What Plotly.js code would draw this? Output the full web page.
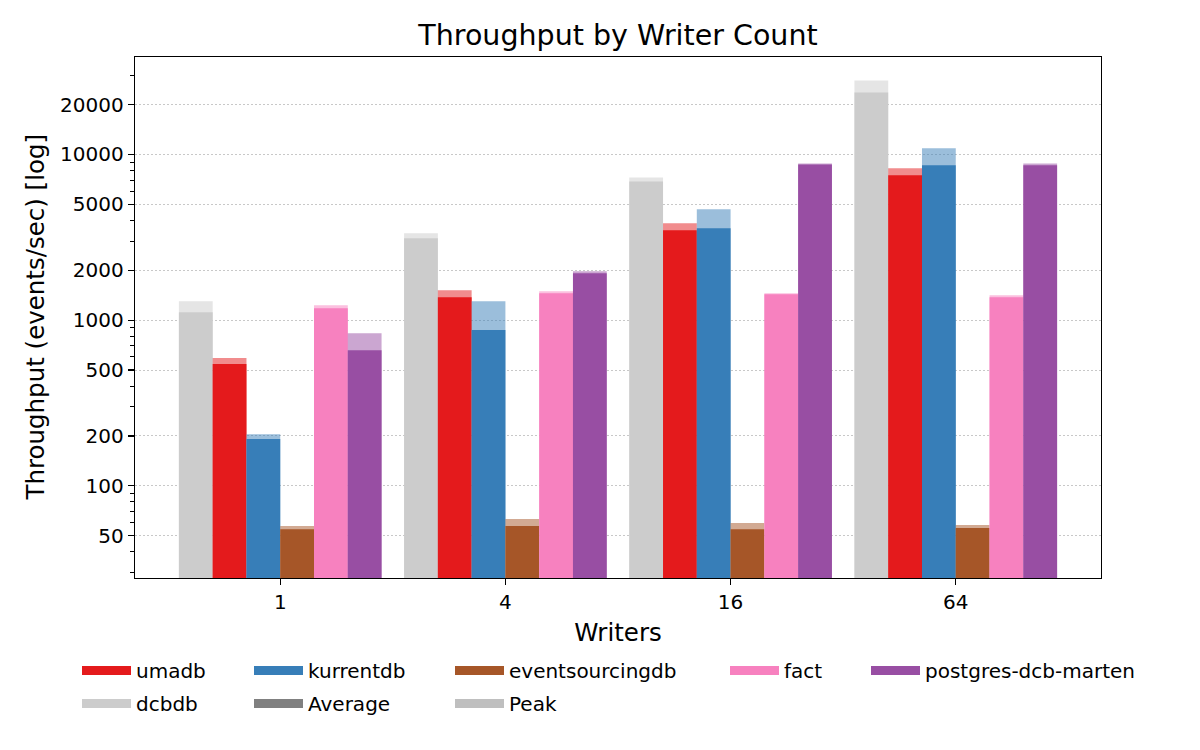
<!DOCTYPE html>
<html>
<head>
<meta charset="utf-8">
<script src="https://cdn.plot.ly/plotly-3.0.1.min.js"></script>
<style>
  body { margin: 0; background: #fff; }
  #chart { width: 1200px; height: 750px; }
</style>
</head>
<body>
<div id="chart"></div>
<script>
// writer counts on the x axis
const writers = ['1', '4', '16', '64'];

// throughput in events/sec (average / peak)
const dcbdbAvg = [1117, 3123, 6875, 23650];
const dcbdbPeak = [1302, 3348, 7265, 27950];
const umadbAvg = [543, 1376, 3490, 7490];
const umadbPeak = [590, 1517, 3846, 8254];
const kurrentdbAvg = [192, 871, 3587, 8607];
const kurrentdbPeak = [205, 1302, 4672, 10900];
const eventsourcingdbAvg = [54.8, 57.2, 54.8, 55.6];
const eventsourcingdbPeak = [57.2, 63.0, 59.7, 58.0];
const factAvg = [1181, 1455, 1435, 1376];
const factPeak = [1231, 1496, 1455, 1415];
const martenAvg = [659, 1920, 8703, 8607];
const martenPeak = [835, 1975, 8825, 8830];

const yTickVals = [50, 100, 200, 500, 1000, 2000, 5000, 10000, 20000];
const yTickText = ['50', '100', '200', '500', '1000', '2000', '5000', '10000', '20000'];

const FONT = 'DejaVu Sans, Verdana, sans-serif';

const series = [
  { name: 'dcbdb', avg: dcbdbAvg, peak: dcbdbPeak, color: '#cccccc' },
  { name: 'umadb', avg: umadbAvg, peak: umadbPeak, color: '#e41a1c' },
  { name: 'kurrentdb', avg: kurrentdbAvg, peak: kurrentdbPeak, color: '#377eb8' },
  { name: 'eventsourcingdb', avg: eventsourcingdbAvg, peak: eventsourcingdbPeak, color: '#a65628' },
  { name: 'fact', avg: factAvg, peak: factPeak, color: '#f781bf' },
  { name: 'postgres-dcb-marten', avg: martenAvg, peak: martenPeak, color: '#984ea3' },
];

const data = [];
series.forEach((s) => {
  // peak drawn first, lighter, average sits on top in the same slot
  data.push({
    type: 'bar', x: writers, y: s.peak, name: s.name + ' peak',
    offsetgroup: s.name, showlegend: false, hoverinfo: 'y+name',
    marker: { color: s.color, opacity: 0.5, line: { width: 0 } },
  });
  data.push({
    type: 'bar', x: writers, y: s.avg, name: s.name,
    offsetgroup: s.name, showlegend: false, hoverinfo: 'y+name',
    marker: { color: s.color, line: { width: 0 } },
  });
});

// legend entries laid out like matplotlib's 5-column legend
const legendItems = [
  { name: 'umadb', color: '#e41a1c', legend: 'legend' },
  { name: 'dcbdb', color: '#cccccc', legend: 'legend' },
  { name: 'kurrentdb', color: '#377eb8', legend: 'legend2' },
  { name: 'Average', color: '#808080', legend: 'legend2' },
  { name: 'eventsourcingdb', color: '#a65628', legend: 'legend3' },
  { name: 'Peak', color: '#bfbfbf', legend: 'legend3' },
  { name: 'fact', color: '#f781bf', legend: 'legend4' },
  { name: 'postgres-dcb-marten', color: '#984ea3', legend: 'legend5' },
];
legendItems.forEach((it) => {
  data.push({
    type: 'scatter', mode: 'lines', x: [null], y: [null],
    name: it.name, legend: it.legend, legendgroup: it.name,
    line: { color: it.color, width: 9 }, hoverinfo: 'skip',
  });
});

const legendBase = {
  orientation: 'v', xref: 'container', yref: 'container',
  xanchor: 'left', yanchor: 'top', y: 1 - 651 / 750,
  bgcolor: 'rgba(0,0,0,0)', borderwidth: 0,
  font: { family: FONT, size: 20, color: '#000' },
  traceorder: 'grouped', tracegroupgap: 4, itemwidth: 49,
};
const legendAt = (px) => Object.assign({}, legendBase, { x: px / 1200 });

const layout = {
  width: 1200,
  height: 750,
  paper_bgcolor: '#fff',
  plot_bgcolor: '#fff',
  font: { family: FONT, size: 20, color: '#000' },
  margin: { l: 135, r: 99, t: 57, b: 172, autoexpand: false },
  title: {
    text: 'Throughput by Writer Count',
    font: { family: FONT, size: 28.5, color: '#000' },
    x: 0.5, xref: 'paper', y: 1 - 35 / 750, yref: 'container', yanchor: 'middle',
  },
  barmode: 'group',
  bargap: 0.1,
  bargroupgap: 0,
  showlegend: true,
  legend: legendAt(77),
  legend2: legendAt(249),
  legend3: legendAt(450),
  legend4: legendAt(725),
  legend5: legendAt(866),
  xaxis: {
    type: 'category',
    range: [-0.645, 3.645],
    title: { text: 'Writers', font: { family: FONT, size: 24.5 }, standoff: 10 },
    ticks: 'outside', ticklen: 6, tickwidth: 1.2, tickcolor: '#000',
    tickfont: { family: FONT, size: 20 },
    showline: true, linecolor: '#000', linewidth: 1.3, mirror: true,
    showgrid: false, zeroline: false,
  },
  yaxis: {
    type: 'log',
    range: [1.444, 4.588],
    tickmode: 'array', tickvals: yTickVals, ticktext: yTickText,
    ticks: 'outside', ticklen: 6, tickwidth: 1.2, tickcolor: '#000',
    tickfont: { family: FONT, size: 20 },
    showline: true, linecolor: '#000', linewidth: 1.3, mirror: true,
    showgrid: true, gridcolor: '#c8c8c8', griddash: '1.5px,2.5px', gridwidth: 1,
    zeroline: false,
    minor: { dtick: 'D1', ticks: 'outside', ticklen: 3.5, tickwidth: 1, tickcolor: '#000', showgrid: false },
  },
  annotations: [{
    // y axis title, placed by hand (the axis title landed inside the plot)
    text: 'Throughput (events/sec) [log]',
    textangle: -90, showarrow: false,
    xref: 'paper', x: -100 / 966, xanchor: 'center',
    yref: 'paper', y: 0.5, yanchor: 'middle',
    font: { family: FONT, size: 24.5, color: '#000' },
  }],
};

Plotly.newPlot('chart', data, layout, { displayModeBar: false, staticPlot: true });
</script>
</body>
</html>
